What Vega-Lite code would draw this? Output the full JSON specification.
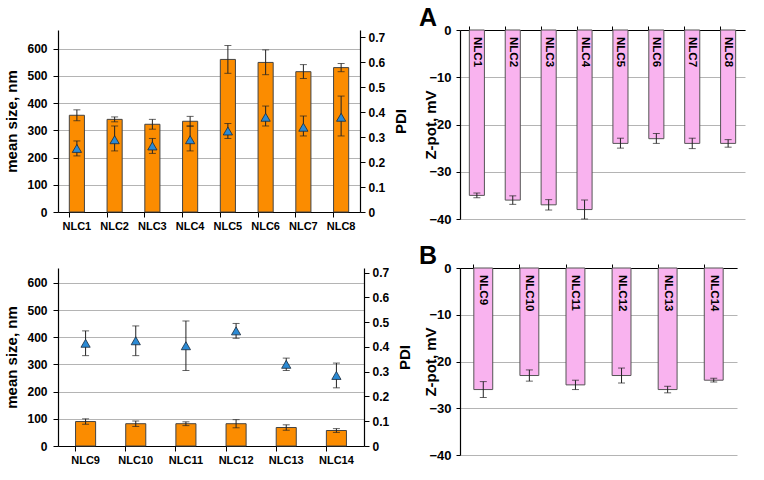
{
  "$schema": "https://vega.github.io/schema/vega-lite/v6.json",
  "padding": {"left": 4, "top": 6, "right": 5, "bottom": 5},
  "background": "white",
  "datasets": {
    "top": [
      {"sample": "NLC1", "size": 355, "size_lo": 335, "size_hi": 375, "pdi": 0.255, "pdi_lo": 0.225, "pdi_hi": 0.285, "zeta": -35, "zeta_lo": -35.5, "zeta_hi": -34.5},
      {"sample": "NLC2", "size": 340, "size_lo": 331, "size_hi": 349, "pdi": 0.29, "pdi_lo": 0.245, "pdi_hi": 0.345, "zeta": -36, "zeta_lo": -36.9, "zeta_hi": -35.1},
      {"sample": "NLC3", "size": 322, "size_lo": 304, "size_hi": 340, "pdi": 0.265, "pdi_lo": 0.235, "pdi_hi": 0.295, "zeta": -37, "zeta_lo": -38.1, "zeta_hi": -35.9},
      {"sample": "NLC4", "size": 333, "size_lo": 315, "size_hi": 351, "pdi": 0.29, "pdi_lo": 0.245, "pdi_hi": 0.345, "zeta": -38, "zeta_lo": -40, "zeta_hi": -36},
      {"sample": "NLC5", "size": 560, "size_lo": 509, "size_hi": 611, "pdi": 0.325, "pdi_lo": 0.295, "pdi_hi": 0.355, "zeta": -24, "zeta_lo": -25, "zeta_hi": -22.9},
      {"sample": "NLC6", "size": 549, "size_lo": 504, "size_hi": 595, "pdi": 0.38, "pdi_lo": 0.345, "pdi_hi": 0.425, "zeta": -23, "zeta_lo": -24, "zeta_hi": -21.9},
      {"sample": "NLC7", "size": 515, "size_lo": 490, "size_hi": 541, "pdi": 0.34, "pdi_lo": 0.305, "pdi_hi": 0.385, "zeta": -24, "zeta_lo": -25.1, "zeta_hi": -22.9},
      {"sample": "NLC8", "size": 530, "size_lo": 515, "size_hi": 545, "pdi": 0.38, "pdi_lo": 0.305, "pdi_hi": 0.465, "zeta": -24, "zeta_lo": -24.8, "zeta_hi": -23.2}
    ],
    "bottom": [
      {"sample": "NLC9", "size": 90, "size_lo": 80, "size_hi": 100, "pdi": 0.415, "pdi_lo": 0.365, "pdi_hi": 0.465, "zeta": -26, "zeta_lo": -27.7, "zeta_hi": -24.3},
      {"sample": "NLC10", "size": 82, "size_lo": 72, "size_hi": 92, "pdi": 0.425, "pdi_lo": 0.365, "pdi_hi": 0.485, "zeta": -23, "zeta_lo": -24.2, "zeta_hi": -21.8},
      {"sample": "NLC11", "size": 82, "size_lo": 75, "size_hi": 89, "pdi": 0.405, "pdi_lo": 0.305, "pdi_hi": 0.505, "zeta": -25, "zeta_lo": -26, "zeta_hi": -24},
      {"sample": "NLC12", "size": 82, "size_lo": 67, "size_hi": 97, "pdi": 0.465, "pdi_lo": 0.435, "pdi_hi": 0.495, "zeta": -23, "zeta_lo": -24.6, "zeta_hi": -21.4},
      {"sample": "NLC13", "size": 68, "size_lo": 58, "size_hi": 78, "pdi": 0.33, "pdi_lo": 0.305, "pdi_hi": 0.355, "zeta": -26, "zeta_lo": -26.7, "zeta_hi": -25.3},
      {"sample": "NLC14", "size": 57, "size_lo": 50, "size_hi": 64, "pdi": 0.285, "pdi_lo": 0.235, "pdi_hi": 0.335, "zeta": -24, "zeta_lo": -24.4, "zeta_hi": -23.6}
    ]
  },
  "config": {
    "view": {"stroke": null},
    "font": "Liberation Sans",
    "axis": {
      "labelFont": "Liberation Sans", "labelFontWeight": "bold", "labelFontSize": 12, "labelColor": "#000",
      "titleFont": "Liberation Sans", "titleFontWeight": "bold", "titleFontSize": 15, "titleColor": "#000",
      "domain": true, "domainColor": "#000", "domainWidth": 1, "tickColor": "#000", "gridColor": "#b4b4b4", "tickSize": 5,
      "labelOverlap": false
    },
    "axisQuantitative": {"domain": true, "labelOverlap": false},
    "axisY": {"domain": true, "domainColor": "#000"},
    "title": {"font": "Liberation Sans", "fontWeight": "bold", "fontSize": 25, "color": "#000"}
  },
  "bounds": "flush",
  "columns": 2,
  "spacing": {"row": 49, "column": 96},
  "concat": [
    {
      "width": 302, "height": 182,
      "data": {"name": "top"},
      "layer": [
        {
          "encoding": {
            "x": {"field": "sample", "type": "nominal", "sort": null, "scale": {"paddingInner": 0.6, "paddingOuter": 0.3},
                  "axis": {"orient": "bottom", "title": null, "labelAngle": 0, "ticks": false, "labelPadding": 8, "labelFontSize": 11}}
          },
          "layer": [
            {"mark": {"type": "bar", "fill": "#fb8c00", "stroke": "#444", "strokeWidth": 1},
             "encoding": {"y": {"field": "size", "type": "quantitative", "scale": {"domain": [0, 668], "nice": false},
               "axis": {"title": "mean size, nm", "values": [0, 100, 200, 300, 400, 500, 600], "grid": true, "domain": true, "domainColor": "#000", "domainWidth": 1.2, "labelPadding": 6, "titlePadding": 7}}}},
            {"mark": {"type": "rule", "color": "#222", "strokeWidth": 1},
             "encoding": {"y": {"field": "size_lo", "type": "quantitative", "scale": {"domain": [0, 668], "nice": false},
               "axis": {"title": "mean size, nm", "values": [0, 100, 200, 300, 400, 500, 600], "grid": true, "domain": true, "domainColor": "#000", "domainWidth": 1.2, "labelPadding": 6, "titlePadding": 7}}, "y2": {"field": "size_hi"}}},
            {"mark": {"type": "tick", "color": "#222", "size": 7, "thickness": 1},
             "encoding": {"y": {"field": "size_lo", "type": "quantitative", "scale": {"domain": [0, 668], "nice": false},
               "axis": {"title": "mean size, nm", "values": [0, 100, 200, 300, 400, 500, 600], "grid": true, "domain": true, "domainColor": "#000", "domainWidth": 1.2, "labelPadding": 6, "titlePadding": 7}}}},
            {"mark": {"type": "tick", "color": "#222", "size": 7, "thickness": 1},
             "encoding": {"y": {"field": "size_hi", "type": "quantitative", "scale": {"domain": [0, 668], "nice": false},
               "axis": {"title": "mean size, nm", "values": [0, 100, 200, 300, 400, 500, 600], "grid": true, "domain": true, "domainColor": "#000", "domainWidth": 1.2, "labelPadding": 6, "titlePadding": 7}}}}
          ]
        },
        {
          "encoding": {
            "x": {"field": "sample", "type": "nominal", "sort": null,
                  "axis": {"orient": "bottom", "title": null, "labels": false, "domain": false, "ticks": true, "bandPosition": 0, "tickSize": 5}}
          },
          "layer": [
            {"mark": {"type": "rule", "color": "#222", "strokeWidth": 1},
             "encoding": {"y": {"field": "pdi_lo", "type": "quantitative", "scale": {"domain": [0, 0.73], "nice": false},
               "axis": {"orient": "right", "title": "PDI", "titleAngle": 270, "titleBaseline": "top", "values": [0, 0.1, 0.2, 0.3, 0.4, 0.5, 0.6, 0.7], "format": "~g", "grid": false, "domain": true, "domainColor": "#000", "domainWidth": 1.2, "labelPadding": 3, "titlePadding": 9}},
               "y2": {"field": "pdi_hi"}}},
            {"mark": {"type": "tick", "color": "#222", "size": 7, "thickness": 1},
             "encoding": {"y": {"field": "pdi_lo", "type": "quantitative", "scale": {"domain": [0, 0.73], "nice": false},
               "axis": {"orient": "right", "title": "PDI", "titleAngle": 270, "titleBaseline": "top", "values": [0, 0.1, 0.2, 0.3, 0.4, 0.5, 0.6, 0.7], "format": "~g", "grid": false, "domain": true, "domainColor": "#000", "domainWidth": 1.2, "labelPadding": 3, "titlePadding": 9}}}},
            {"mark": {"type": "tick", "color": "#222", "size": 7, "thickness": 1},
             "encoding": {"y": {"field": "pdi_hi", "type": "quantitative", "scale": {"domain": [0, 0.73], "nice": false},
               "axis": {"orient": "right", "title": "PDI", "titleAngle": 270, "titleBaseline": "top", "values": [0, 0.1, 0.2, 0.3, 0.4, 0.5, 0.6, 0.7], "format": "~g", "grid": false, "domain": true, "domainColor": "#000", "domainWidth": 1.2, "labelPadding": 3, "titlePadding": 9}}}},
            {"mark": {"type": "point", "shape": "triangle-up", "filled": true, "fill": "#2b8ad4", "stroke": "#1a2a3a", "strokeWidth": 0.8, "size": 85, "opacity": 1},
             "encoding": {"y": {"field": "pdi", "type": "quantitative", "scale": {"domain": [0, 0.73], "nice": false},
               "axis": {"orient": "right", "title": "PDI", "titleAngle": 270, "titleBaseline": "top", "values": [0, 0.1, 0.2, 0.3, 0.4, 0.5, 0.6, 0.7], "format": "~g", "grid": false, "domain": true, "domainColor": "#000", "domainWidth": 1.2, "labelPadding": 3, "titlePadding": 9}}}}
          ]
        }
      ],
      "resolve": {"scale": {"y": "independent"}, "axis": {"x": "independent"}}
    },
    {
      "width": 285, "height": 189,
      "data": {"name": "top"},
      "title": {"text": "A", "anchor": "start", "frame": "bounds", "offset": -7, "dx": -5},
      "encoding": {
        "x": {"field": "sample", "type": "nominal", "sort": null, "scale": {"paddingInner": 0.58, "paddingOuter": 0.26},
              "axis": {"orient": "top", "title": null, "labels": false, "bandPosition": 0, "tickSize": 4}}
      },
      "layer": [
        {"mark": {"type": "bar", "fill": "#f9b3ef", "stroke": "#555", "strokeWidth": 1},
         "encoding": {"y": {"field": "zeta", "type": "quantitative", "scale": {"domain": [-40, 0], "nice": false},
           "axis": {"title": "Z-pot, mV", "values": [-40, -30, -20, -10, 0], "grid": true, "domain": true, "domainColor": "#000", "domainWidth": 1.2, "labelFontSize": 13, "labelPadding": 5, "tickSize": 4, "titlePadding": -10}}}},
        {"mark": {"type": "rule", "color": "#222", "strokeWidth": 1},
         "encoding": {"y": {"field": "zeta_lo", "type": "quantitative", "scale": {"domain": [-40, 0], "nice": false},
           "axis": {"title": "Z-pot, mV", "values": [-40, -30, -20, -10, 0], "grid": true, "domain": true, "domainColor": "#000", "domainWidth": 1.2, "labelFontSize": 13, "labelPadding": 5, "tickSize": 4, "titlePadding": -10}}, "y2": {"field": "zeta_hi"}}},
        {"mark": {"type": "tick", "color": "#222", "size": 7, "thickness": 1},
         "encoding": {"y": {"field": "zeta_lo", "type": "quantitative", "scale": {"domain": [-40, 0], "nice": false},
           "axis": {"title": "Z-pot, mV", "values": [-40, -30, -20, -10, 0], "grid": true, "domain": true, "domainColor": "#000", "domainWidth": 1.2, "labelFontSize": 13, "labelPadding": 5, "tickSize": 4, "titlePadding": -10}}}},
        {"mark": {"type": "tick", "color": "#222", "size": 7, "thickness": 1},
         "encoding": {"y": {"field": "zeta_hi", "type": "quantitative", "scale": {"domain": [-40, 0], "nice": false},
           "axis": {"title": "Z-pot, mV", "values": [-40, -30, -20, -10, 0], "grid": true, "domain": true, "domainColor": "#000", "domainWidth": 1.2, "labelFontSize": 13, "labelPadding": 5, "tickSize": 4, "titlePadding": -10}}}},
        {"mark": {"type": "text", "angle": 90, "align": "left", "baseline": "middle", "dx": 7, "fontSize": 11.5, "fontWeight": "bold", "font": "Liberation Sans", "color": "#000"},
         "encoding": {"y": {"datum": 0, "type": "quantitative", "scale": {"domain": [-40, 0], "nice": false},
           "axis": {"title": "Z-pot, mV", "values": [-40, -30, -20, -10, 0], "grid": true, "domain": true, "domainColor": "#000", "domainWidth": 1.2, "labelFontSize": 13, "labelPadding": 5, "tickSize": 4, "titlePadding": -10}}, "text": {"field": "sample"}}}
      ]
    },
    {
      "width": 306, "height": 178,
      "data": {"name": "bottom"},
      "layer": [
        {
          "encoding": {
            "x": {"field": "sample", "type": "nominal", "sort": null, "scale": {"paddingInner": 0.6, "paddingOuter": 0.35},
                  "axis": {"orient": "bottom", "title": null, "labelAngle": 0, "ticks": false, "labelPadding": 8, "labelFontSize": 11}}
          },
          "layer": [
            {"mark": {"type": "bar", "fill": "#fb8c00", "stroke": "#444", "strokeWidth": 1},
             "encoding": {"y": {"field": "size", "type": "quantitative", "scale": {"domain": [0, 655], "nice": false},
               "axis": {"title": "mean size, nm", "values": [0, 100, 200, 300, 400, 500, 600], "grid": true, "domain": true, "domainColor": "#000", "domainWidth": 1.2, "labelPadding": 6, "titlePadding": 7}}}},
            {"mark": {"type": "rule", "color": "#222", "strokeWidth": 1},
             "encoding": {"y": {"field": "size_lo", "type": "quantitative", "scale": {"domain": [0, 655], "nice": false},
               "axis": {"title": "mean size, nm", "values": [0, 100, 200, 300, 400, 500, 600], "grid": true, "domain": true, "domainColor": "#000", "domainWidth": 1.2, "labelPadding": 6, "titlePadding": 7}}, "y2": {"field": "size_hi"}}},
            {"mark": {"type": "tick", "color": "#222", "size": 7, "thickness": 1},
             "encoding": {"y": {"field": "size_lo", "type": "quantitative", "scale": {"domain": [0, 655], "nice": false},
               "axis": {"title": "mean size, nm", "values": [0, 100, 200, 300, 400, 500, 600], "grid": true, "domain": true, "domainColor": "#000", "domainWidth": 1.2, "labelPadding": 6, "titlePadding": 7}}}},
            {"mark": {"type": "tick", "color": "#222", "size": 7, "thickness": 1},
             "encoding": {"y": {"field": "size_hi", "type": "quantitative", "scale": {"domain": [0, 655], "nice": false},
               "axis": {"title": "mean size, nm", "values": [0, 100, 200, 300, 400, 500, 600], "grid": true, "domain": true, "domainColor": "#000", "domainWidth": 1.2, "labelPadding": 6, "titlePadding": 7}}}}
          ]
        },
        {
          "encoding": {
            "x": {"field": "sample", "type": "nominal", "sort": null,
                  "axis": {"orient": "bottom", "title": null, "labels": false, "domain": false, "ticks": true, "bandPosition": 0, "tickSize": 5}}
          },
          "layer": [
            {"mark": {"type": "rule", "color": "#222", "strokeWidth": 1},
             "encoding": {"y": {"field": "pdi_lo", "type": "quantitative", "scale": {"domain": [0, 0.719], "nice": false},
               "axis": {"orient": "right", "title": "PDI", "titleAngle": 270, "titleBaseline": "top", "values": [0, 0.1, 0.2, 0.3, 0.4, 0.5, 0.6, 0.7], "format": "~g", "grid": false, "domain": true, "domainColor": "#000", "domainWidth": 1.2, "labelPadding": 3, "titlePadding": 9}},
               "y2": {"field": "pdi_hi"}}},
            {"mark": {"type": "tick", "color": "#222", "size": 7, "thickness": 1},
             "encoding": {"y": {"field": "pdi_lo", "type": "quantitative", "scale": {"domain": [0, 0.719], "nice": false},
               "axis": {"orient": "right", "title": "PDI", "titleAngle": 270, "titleBaseline": "top", "values": [0, 0.1, 0.2, 0.3, 0.4, 0.5, 0.6, 0.7], "format": "~g", "grid": false, "domain": true, "domainColor": "#000", "domainWidth": 1.2, "labelPadding": 3, "titlePadding": 9}}}},
            {"mark": {"type": "tick", "color": "#222", "size": 7, "thickness": 1},
             "encoding": {"y": {"field": "pdi_hi", "type": "quantitative", "scale": {"domain": [0, 0.719], "nice": false},
               "axis": {"orient": "right", "title": "PDI", "titleAngle": 270, "titleBaseline": "top", "values": [0, 0.1, 0.2, 0.3, 0.4, 0.5, 0.6, 0.7], "format": "~g", "grid": false, "domain": true, "domainColor": "#000", "domainWidth": 1.2, "labelPadding": 3, "titlePadding": 9}}}},
            {"mark": {"type": "point", "shape": "triangle-up", "filled": true, "fill": "#2b8ad4", "stroke": "#1a2a3a", "strokeWidth": 0.8, "size": 85, "opacity": 1},
             "encoding": {"y": {"field": "pdi", "type": "quantitative", "scale": {"domain": [0, 0.719], "nice": false},
               "axis": {"orient": "right", "title": "PDI", "titleAngle": 270, "titleBaseline": "top", "values": [0, 0.1, 0.2, 0.3, 0.4, 0.5, 0.6, 0.7], "format": "~g", "grid": false, "domain": true, "domainColor": "#000", "domainWidth": 1.2, "labelPadding": 3, "titlePadding": 9}}}}
          ]
        }
      ],
      "resolve": {"scale": {"y": "independent"}, "axis": {"x": "independent"}}
    },
    {
      "width": 277, "height": 187,
      "data": {"name": "bottom"},
      "title": {"text": "B", "anchor": "start", "frame": "bounds", "offset": -7, "dx": -5},
      "encoding": {
        "x": {"field": "sample", "type": "nominal", "sort": null, "scale": {"paddingInner": 0.59, "paddingOuter": 0.3},
              "axis": {"orient": "top", "title": null, "labels": false, "bandPosition": 0, "tickSize": 4}}
      },
      "layer": [
        {"mark": {"type": "bar", "fill": "#f9b3ef", "stroke": "#555", "strokeWidth": 1},
         "encoding": {"y": {"field": "zeta", "type": "quantitative", "scale": {"domain": [-40, 0], "nice": false},
           "axis": {"title": "Z-pot, mV", "values": [-40, -30, -20, -10, 0], "grid": true, "domain": true, "domainColor": "#000", "domainWidth": 1.2, "labelFontSize": 13, "labelPadding": 5, "tickSize": 4, "titlePadding": -10}}}},
        {"mark": {"type": "rule", "color": "#222", "strokeWidth": 1},
         "encoding": {"y": {"field": "zeta_lo", "type": "quantitative", "scale": {"domain": [-40, 0], "nice": false},
           "axis": {"title": "Z-pot, mV", "values": [-40, -30, -20, -10, 0], "grid": true, "domain": true, "domainColor": "#000", "domainWidth": 1.2, "labelFontSize": 13, "labelPadding": 5, "tickSize": 4, "titlePadding": -10}}, "y2": {"field": "zeta_hi"}}},
        {"mark": {"type": "tick", "color": "#222", "size": 7, "thickness": 1},
         "encoding": {"y": {"field": "zeta_lo", "type": "quantitative", "scale": {"domain": [-40, 0], "nice": false},
           "axis": {"title": "Z-pot, mV", "values": [-40, -30, -20, -10, 0], "grid": true, "domain": true, "domainColor": "#000", "domainWidth": 1.2, "labelFontSize": 13, "labelPadding": 5, "tickSize": 4, "titlePadding": -10}}}},
        {"mark": {"type": "tick", "color": "#222", "size": 7, "thickness": 1},
         "encoding": {"y": {"field": "zeta_hi", "type": "quantitative", "scale": {"domain": [-40, 0], "nice": false},
           "axis": {"title": "Z-pot, mV", "values": [-40, -30, -20, -10, 0], "grid": true, "domain": true, "domainColor": "#000", "domainWidth": 1.2, "labelFontSize": 13, "labelPadding": 5, "tickSize": 4, "titlePadding": -10}}}},
        {"mark": {"type": "text", "angle": 90, "align": "left", "baseline": "middle", "dx": 7, "fontSize": 11.5, "fontWeight": "bold", "font": "Liberation Sans", "color": "#000"},
         "encoding": {"y": {"datum": 0, "type": "quantitative", "scale": {"domain": [-40, 0], "nice": false},
           "axis": {"title": "Z-pot, mV", "values": [-40, -30, -20, -10, 0], "grid": true, "domain": true, "domainColor": "#000", "domainWidth": 1.2, "labelFontSize": 13, "labelPadding": 5, "tickSize": 4, "titlePadding": -10}}, "text": {"field": "sample"}}}
      ]
    }
  ]
}
